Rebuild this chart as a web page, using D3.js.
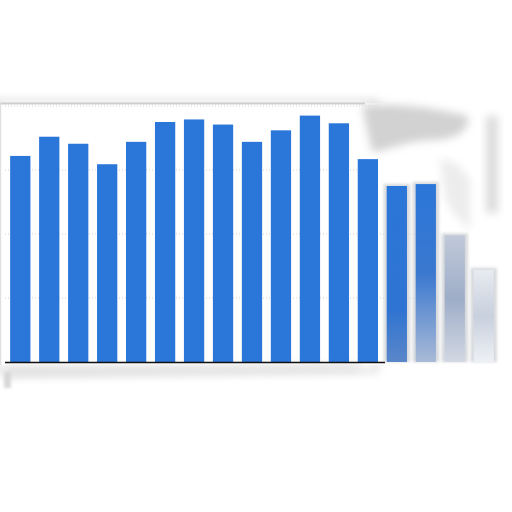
<!DOCTYPE html>
<html>
<head>
<meta charset="utf-8">
<script src="https://cdn.jsdelivr.net/npm/d3@7"></script>
<style>
html,body{margin:0;padding:0;background:#fff;}
svg{display:block;}
</style>
</head>
<body>
<svg id="chart" width="512" height="512"></svg>
<script>
const categories = ["1","2","3","4","5","6","7","8","9","10","11","12","13","14","15","16","17"];
const values = [3.22,3.52,3.41,3.09,3.44,3.75,3.79,3.71,3.44,3.62,3.85,3.73,3.17,2.75,2.78,1.98,1.44];
const yTicks = [0,1,2,3,4];

const svg = d3.select("#chart");
const defs = svg.append("defs");
defs.append("filter").attr("id","blur").attr("x","-50%").attr("y","-50%").attr("width","200%").attr("height","200%")
  .append("feGaussianBlur").attr("stdDeviation",4);
defs.append("filter").attr("id","blur2").attr("x","-50%").attr("y","-50%").attr("width","200%").attr("height","200%")
  .append("feGaussianBlur").attr("stdDeviation",1.5);

function grad(id, stops){
  const g = defs.append("linearGradient").attr("id",id).attr("x1",0).attr("y1",0).attr("x2",0).attr("y2",1);
  stops.forEach(s=>g.append("stop").attr("offset",s[0]).attr("stop-color",s[1]));
}
grad("g14",[[0,"#2b76d9"],[0.7,"#2f74d2"],[1,"#5a86c8"]]);
grad("g15",[[0,"#2b76d9"],[0.5,"#3a78cf"],[1,"#a9bad6"]]);
grad("g16",[[0,"#c0c9d9"],[0.5,"#9eadc8"],[1,"#d2d8e3"]]);
grad("g17",[[0,"#e8ebf0"],[0.5,"#c8d0de"],[1,"#eef0f4"]]);
const fills = d3.range(17).map(i => i<13 ? "#2b76d9" : i===13 ? "url(#g14)" : i===14 ? "url(#g15)" : i===15 ? "url(#g16)" : "url(#g17)");

const x = d3.scaleBand().domain(categories).range([0,504]).paddingInner(0.3).paddingOuter(0.35);
const y = d3.scaleLinear().domain([0,4]).range([362,106]);

// frame / shadow
svg.append("rect").attr("x",-4).attr("y",101).attr("width",380).attr("height",270)
  .attr("fill","none").attr("stroke","#cfcfcf").attr("stroke-width",3).attr("filter","url(#blur)");
svg.append("rect").attr("x",0).attr("y",103).attr("width",446).attr("height",262)
  .attr("fill","#fff");
svg.append("line").attr("x1",0).attr("x2",365).attr("y1",103.5).attr("y2",103.5)
  .attr("stroke","#cdcdcd").attr("stroke-width",2);
svg.append("line").attr("x1",0.5).attr("x2",0.5).attr("y1",103).attr("y2",365)
  .attr("stroke","#e0e0e0").attr("stroke-width",1.5);
// smudges
svg.append("path").attr("d","M362,106 C395,102 435,108 468,116 C470,130 458,140 430,140 C405,141 390,150 372,152 Z")
  .attr("fill","#d2d2d2").attr("filter","url(#blur)");
svg.append("path").attr("d","M440,160 C455,158 462,170 470,180 L470,230 C460,220 450,210 446,200 Z")
  .attr("fill","#ececec").attr("filter","url(#blur)");
svg.append("rect").attr("x",486).attr("y",116).attr("width",12).attr("height",97)
  .attr("fill","#dcdcdc").attr("filter","url(#blur)");
svg.append("path").attr("d","M5,366 C100,368 250,366 360,364 L360,371 C250,374 100,376 5,378 Z")
  .attr("fill","#e2e2e2").attr("filter","url(#blur)");
svg.append("rect").attr("x",4).attr("y",372).attr("width",7).attr("height",16)
  .attr("fill","#d8d8d8").attr("filter","url(#blur2)");

// gridlines
svg.append("g").selectAll("line").data(yTicks.filter(d=>d>0)).join("line")
  .attr("x1",5).attr("x2",d=> d>=3 ? 380 : 440).attr("y1",d=>y(d)).attr("y2",d=>y(d))
  .attr("stroke","#d0d0d0").attr("stroke-width",1).attr("stroke-dasharray","1,2");

// bar shadows for faded bars
svg.append("g").selectAll("rect").data(values).join("rect")
  .filter((d,i)=>i>=13)
  .attr("x",(d,i)=>x(categories[i+13])-3)
  .attr("width",x.bandwidth()+6)
  .attr("y",d=>y(d)-2)
  .attr("height",d=>y(0)-y(d)+2)
  .attr("fill","#d6d8dc").attr("filter","url(#blur2)");

// bars
svg.append("g").selectAll("rect.bar").data(values).join("rect")
  .attr("class","bar")
  .attr("x",(d,i)=>x(categories[i]))
  .attr("width",x.bandwidth())
  .attr("y",d=>y(d))
  .attr("height",d=>y(0)-y(d))
  .attr("fill",(d,i)=>fills[i]);

// baseline
const axis = d3.axisBottom(x).tickSize(0).tickFormat("");
svg.append("g").attr("transform","translate(0,362)").call(axis)
  .call(g=>g.select(".domain").attr("d","M5,0.5H385").attr("stroke","#111").attr("stroke-width",1.5));
</script>
</body>
</html>
